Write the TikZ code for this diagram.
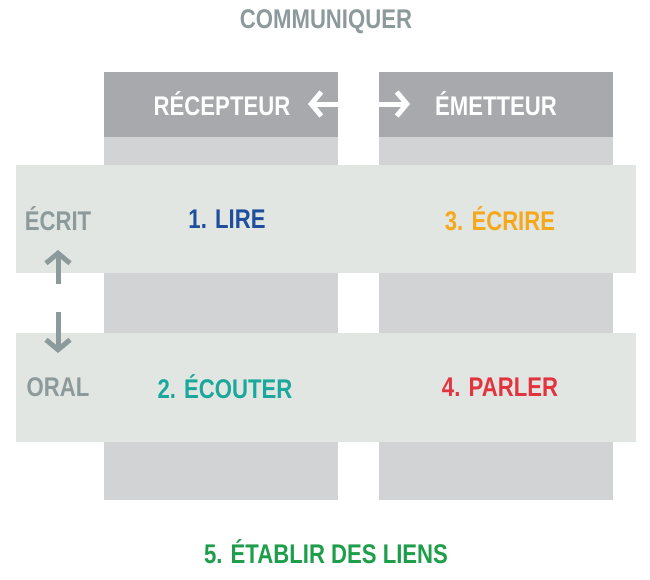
\documentclass[tikz,border=0pt]{standalone}
\usepackage{fontspec}
\setmainfont[FakeStretch=0.82]{Liberation Sans}
\usetikzlibrary{arrows.meta}
\definecolor{hdr}{HTML}{A7A9AC}
\definecolor{col}{HTML}{D1D3D4}
\definecolor{band}{HTML}{E2E6E2}
\definecolor{gtxt}{HTML}{8C9A9B}
\definecolor{cblue}{HTML}{1F4E9C}
\definecolor{corange}{HTML}{F6A81C}
\definecolor{cteal}{HTML}{1AA89C}
\definecolor{cred}{HTML}{E2343F}
\definecolor{cgreen}{HTML}{1E9E4A}
\tikzset{
  lbl/.style={font=\bfseries\fontsize{27}{30}\selectfont},
  arr/.style={line width=5pt,-{Straight Barb[length=10pt,width=24pt,line width=5pt]}}
}
\begin{document}
\begin{tikzpicture}[x=1pt,y=-1pt]
\useasboundingbox (0,0) rectangle (650,579);
\fill[col] (104,137) rectangle (338,500);
\fill[col] (379,137) rectangle (613,500);
\fill[hdr] (104,72) rectangle (338,137);
\fill[hdr] (379,72) rectangle (613,137);
\fill[band] (16,165) rectangle (636,273);
\fill[band] (16,333) rectangle (636,442);
\node[lbl,gtxt] (t) at (326,22) {COMMUNIQUER};
\node[lbl,white] (r) at (222,104) {RÉCEPTEUR};
\node[lbl,white] (e) at (496,104) {ÉMETTEUR};
\node[lbl,gtxt] (ec) at (58,219) {ÉCRIT};
\node[lbl,gtxt] (or) at (58,387) {ORAL};
\node[lbl,cblue] at (227,219) {1. LIRE};
\node[lbl,corange] at (500,219) {3. ÉCRIRE};
\node[lbl,cteal] at (225,387) {2. ÉCOUTER};
\node[lbl,cred] at (500,387) {4. PARLER};
\node[lbl,cgreen] at (326,552) {5. ÉTABLIR DES LIENS};
\coordinate (a1) at (342,104); \coordinate (a2) at (308,104);
\coordinate (b1) at (376,104); \coordinate (b2) at (410,104);
\coordinate (c1) at (58,284); \coordinate (c2) at (58,250);
\coordinate (d1) at (58,312); \coordinate (d2) at (58,353);
\draw[arr,white] (a1) -- (a2);
\draw[arr,white] (b1) -- (b2);
\draw[arr,gtxt] (c1) -- (c2);
\draw[arr,gtxt] (d1) -- (d2);
\end{tikzpicture}
\end{document}
